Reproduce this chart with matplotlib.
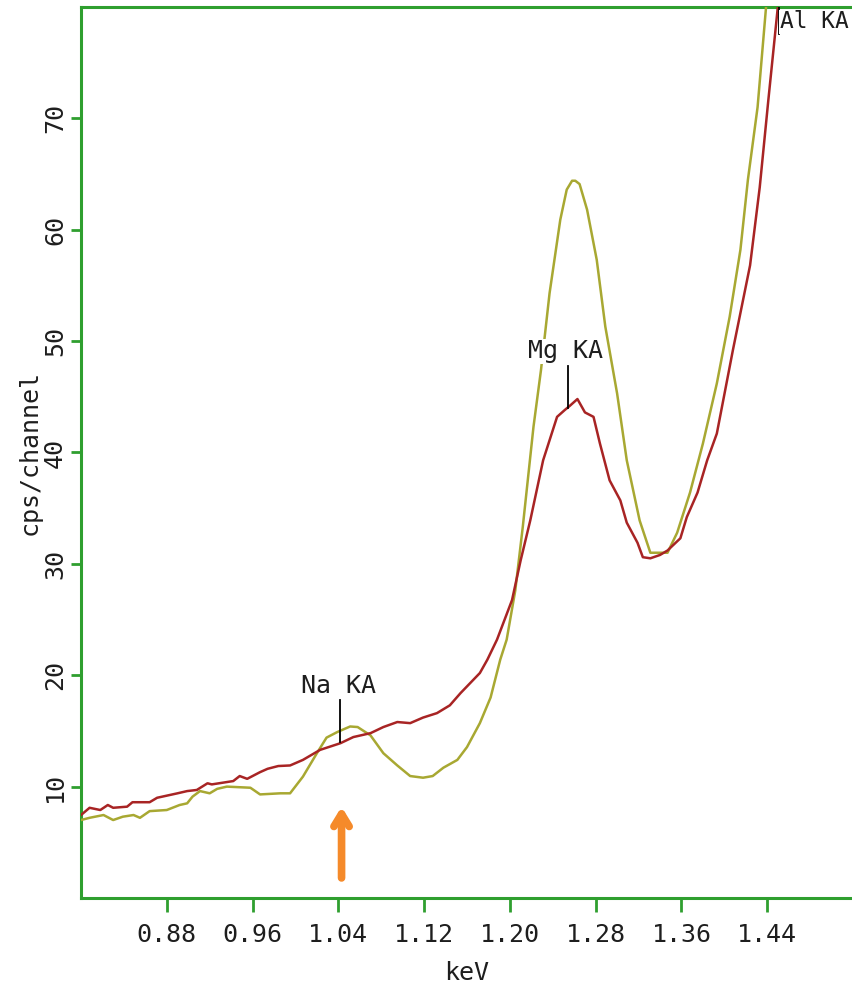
import matplotlib
matplotlib.use("Agg")
import matplotlib.pyplot as plt
from matplotlib import font_manager

# Spectrum samples (keV, cps/channel)
olive_kev = [0.800, 0.808, 0.821, 0.830, 0.839, 0.849, 0.855, 0.864, 0.880, 0.892,
             0.899, 0.904, 0.911, 0.920, 0.927, 0.936, 0.958, 0.967, 0.986, 0.995,
             1.007, 1.020, 1.029, 1.039, 1.051, 1.058, 1.070, 1.082, 1.095, 1.107,
             1.119, 1.128, 1.138, 1.151, 1.160, 1.172, 1.182, 1.191, 1.197, 1.205,
             1.212, 1.222, 1.229, 1.237, 1.247, 1.253, 1.258, 1.261, 1.265, 1.272,
             1.281, 1.289, 1.300, 1.309, 1.321, 1.331, 1.340, 1.347, 1.356, 1.368,
             1.380, 1.393, 1.405, 1.415, 1.422, 1.431, 1.439, 1.445]
olive_cps = [7.0, 7.2, 7.45, 7.0, 7.3, 7.45, 7.2, 7.8, 7.9, 8.35,
             8.5, 9.1, 9.6, 9.4, 9.8, 10.0, 9.9, 9.3, 9.4, 9.4,
             10.9, 13.0, 14.4, 14.9, 15.4, 15.35, 14.6, 13.0, 11.9, 10.95,
             10.8, 10.95, 11.7, 12.4, 13.55, 15.7, 18.0, 21.4, 23.2, 27.6,
             33.3, 42.3, 47.4, 54.3, 60.9, 63.6, 64.4, 64.4, 64.1, 61.8,
             57.3, 51.3, 45.3, 39.3, 33.9, 31.0, 31.0, 31.0, 32.8, 36.4,
             40.8, 46.2, 52.2, 58.2, 64.5, 71.0, 80.1, 86.0]

red_kev = [0.800, 0.808, 0.818, 0.825, 0.830, 0.843, 0.848, 0.864, 0.871, 0.890,
           0.899, 0.908, 0.918, 0.922, 0.942, 0.948, 0.955, 0.967, 0.974, 0.984,
           0.995, 1.007, 1.023, 1.042, 1.054, 1.070, 1.082, 1.095, 1.107, 1.119,
           1.132, 1.144, 1.154, 1.163, 1.172, 1.179, 1.188, 1.202, 1.210, 1.219,
           1.231, 1.237, 1.244, 1.251, 1.256, 1.263, 1.270, 1.278, 1.284, 1.293,
           1.303, 1.309, 1.319, 1.324, 1.331, 1.340, 1.347, 1.359, 1.365, 1.375,
           1.384, 1.393, 1.408, 1.424, 1.433, 1.441, 1.450, 1.455]
red_cps = [7.45, 8.1, 7.9, 8.35, 8.1, 8.2, 8.6, 8.6, 9.0, 9.4,
           9.6, 9.7, 10.3, 10.2, 10.5, 10.95, 10.7, 11.3, 11.6, 11.85,
           11.9, 12.4, 13.3, 13.9, 14.45, 14.8, 15.35, 15.8, 15.7, 16.2,
           16.6, 17.3, 18.4, 19.3, 20.2, 21.4, 23.2, 26.75, 30.3, 33.9,
           39.3, 41.1, 43.2, 43.8, 44.2, 44.8, 43.6, 43.2, 40.8, 37.5,
           35.7, 33.7, 31.9, 30.6, 30.5, 30.8, 31.2, 32.3, 34.2, 36.4,
           39.3, 41.7, 49.2, 56.8, 63.8, 71.6, 80.1, 86.0]

# Element line markers: label, energy, marker bottom, marker top
line_labels = ["Na KA", "Mg KA", "Al KA"]
line_kev = [1.042, 1.254, 1.451]
line_low = [14.0, 44.0, 77.6]
line_high = [17.8, 47.8, 80.0]

x_ticks = [0.88, 0.96, 1.04, 1.12, 1.20, 1.28, 1.36, 1.44]
y_ticks = [10, 20, 30, 40, 50, 60, 70]

installed = {f.name for f in font_manager.fontManager.ttflist}
mono = "Liberation Sans Narrow" if "Liberation Sans Narrow" in installed else "DejaVu Sans Mono"
plt.rcParams["font.family"] = [mono, "DejaVu Sans Mono"]

GREEN = "#2f9f2f"
TEXT = "#1e1e1e"
FS = 18

fig = plt.figure(figsize=(8.53, 9.86), dpi=100)
ax = fig.add_axes([81 / 853, 88 / 986, 1 - 81 / 853, 891 / 986])

ax.plot(olive_kev, olive_cps, color="#a8a832", lw=1.8, zorder=3)
ax.plot(red_kev, red_cps, color="#a82424", lw=1.8, zorder=3)

ax.set_xlim(0.80, 1.52)
ax.set_ylim(0, 80)

for lab, x, lo, hi in zip(line_labels, line_kev, line_low, line_high):
    ax.plot([x, x], [lo, hi], color="black", lw=1.3, zorder=4)
    if lab == "Al KA":
        ax.text(x + 0.001, hi - 0.3, lab, ha="left", va="top", fontsize=FS - 1.5,
                color=TEXT, zorder=5,
                bbox=dict(facecolor="white", edgecolor="none", pad=0.5))
    else:
        ax.text(x - 0.002, hi + 0.2, lab, ha="center", va="bottom", fontsize=FS,
                color=TEXT, zorder=5,
                bbox=dict(facecolor="white", edgecolor="none", pad=0.5))

# Orange arrow pointing at the Na peak
ax.annotate("", xy=(1.043, 8.2), xytext=(1.043, 1.8),
            arrowprops=dict(arrowstyle="->,head_length=0.9,head_width=0.55",
                            color="#f58a2a", lw=5.5, shrinkA=0, shrinkB=0),
            zorder=6)

ax.set_xticks(x_ticks)
ax.set_xticklabels([f"{v:.2f}" for v in x_ticks])
ax.set_yticks(y_ticks)
ax.set_yticklabels([str(v) for v in y_ticks], rotation=90, va="center")

for side in ["left", "bottom", "top"]:
    ax.spines[side].set_color(GREEN)
    ax.spines[side].set_linewidth(2.2)
ax.spines["right"].set_visible(False)

ax.tick_params(axis="x", colors=GREEN, labelcolor=TEXT, length=10, width=2,
               labelsize=FS, pad=8)
ax.tick_params(axis="y", colors=GREEN, labelcolor=TEXT, length=7, width=2,
               labelsize=FS, pad=3)

ax.set_xlabel("keV", fontsize=FS, color=TEXT, labelpad=10)
ax.set_ylabel("cps/channel", fontsize=FS, color=TEXT, labelpad=1)

fig.savefig("out.png", dpi=100, facecolor="white")
